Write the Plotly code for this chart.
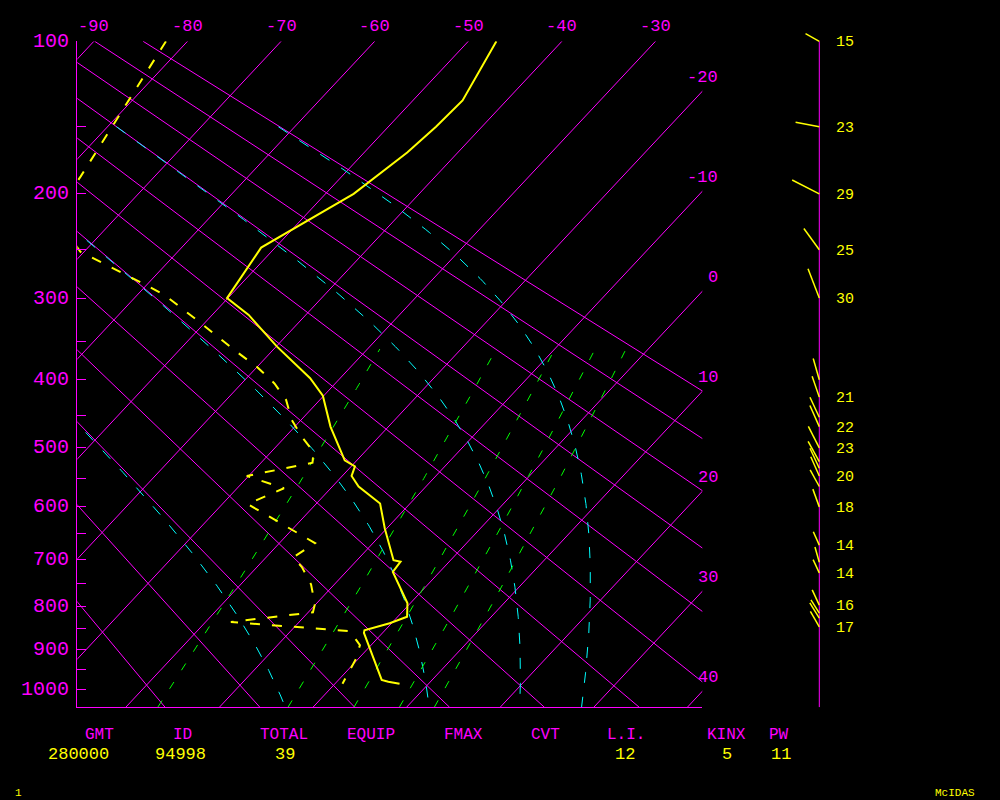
import numpy as np
import plotly.graph_objects as go

# ---------------- data ----------------
PRESSURE_TICKS = [100, 150, 200, 250, 300, 350, 400, 450, 500, 550, 600, 650,
                  700, 750, 800, 850, 900, 950, 1000]
PRESSURE_LABELS = [100, 200, 300, 400, 500, 600, 700, 800, 900, 1000]
ISOTHERMS_C = [-90, -80, -70, -60, -50, -40, -30, -20, -10, 0, 10, 20, 30, 40]
TOP_T_LABELS = [-90, -80, -70, -60, -50, -40, -30]
RIGHT_T_LABELS = [-20, -10, 0, 10, 20, 30, 40]
DRY_ADIABATS_K = [254, 264, 274, 284, 294, 304, 314, 324, 334, 344, 354, 364]
THETA_E_K = [274, 304, 334, 364]
MIXING_RATIOS_GKG = [1, 3, 5, 7, 9]

TEMP_P = [100, 113, 133, 150, 168, 200, 248, 300, 319, 357, 398, 422, 467, 520,
          530, 546, 564, 594, 640, 702, 705, 726, 793, 823, 838, 854, 860, 975,
          980, 985]
TEMP_C = [-47.0, -46.0, -44.7, -44.9, -45.4, -47.0, -51.5, -50.1, -46.1, -39.9,
          -33.2, -30.1, -26.2, -21.3, -19.6, -19.0, -17.2, -13.2, -10.2, -6.1,
          -5.2, -5.0, -0.3, 1.0, -0.2, -2.2, -2.0, 4.6, 5.5, 6.9]

DEW_P = [100, 186, 218, 252, 284, 297, 325, 364, 383, 405, 428, 457, 483, 506,
         524, 546, 567, 595, 668, 696, 716, 752, 795, 813, 835, 856, 889, 925, 985]
DEW_C = [-82.3, -77.9, -76.8, -70.4, -60.6, -57.0, -51.1, -43.6, -40.0, -36.5,
         -33.6, -31.0, -28.2, -25.5, -24.5, -30.2, -25.0, -27.3, -16.2, -17.1,
         -15.2, -12.5, -10.1, -9.5, -17.3, -3.7, -1.2, -0.2, 0.8]

WIND_P = [100, 150, 200, 250, 300, 400, 424, 453, 467, 500, 522, 533, 546, 564,
          600, 672, 706, 728, 797, 815, 826, 846]
WIND_DIR = [299, 281, 297, 324, 339, 344, 341, 335, 336, 333, 331, 335, 336, 331,
            340, 336, 344, 335, 335, 328, 328, 330]
WIND_SPD = [15, 23, 29, 25, 30, 21, 21, 21, 22, 23, 22, 21, 20, 18,
            18, 14, 15, 14, 16, 15, 17, 17]
WIND_LABELLED = [1, 1, 1, 1, 1, 0, 1, 0, 1, 1, 0, 0, 1, 0,
                 1, 1, 0, 1, 1, 0, 0, 1]

STAT_NAMES = ["GMT", "ID", "TOTAL", "EQUIP", "FMAX", "CVT", "L.I.", "KINX", "PW"]
STAT_VALUES = ["280000", "94998", "39", "", "", "", "12", "5", "11"]

# ---------------- geometry / style ----------------
W, H = 1000, 800
PL, PR, PT, PB = 77.3, 702.3, 41.3, 707.3
KAPPA = 0.286
P_TOP, P_BOT = 100.0, 1047.0
X_RIGHT = -25.0
DEG_PER_PX = 1 / 9.36
X_LEFT = X_RIGHT - (PR - PL) * DEG_PER_PX

STAT_NAME_X = [99, 182, 284, 370.5, 463, 545, 626, 726, 779]
STAT_VALUE_X = [78, 180.5, 285, 370.5, 463, 545, 625, 727, 781]

MAG = "#ff00ff"
YEL = "#ffff00"
CYA = "#00ffff"
GRN = "#00ff00"
FONT = "Liberation Mono"


def pk(p):
    return np.asarray(p, dtype=float) ** KAPPA


PK_TOP, PK_BOT = pk(P_TOP), pk(P_BOT)
PX_PER_PK = (PB - PT) / (PK_BOT - PK_TOP)
SKEW = 0.1 * PX_PER_PK  # 10 deg C of skew per 100 px


def skx(T, p):
    return np.asarray(T, dtype=float) - SKEW * (pk(p) - PK_TOP)


def fx(px):
    return px / W


def fy(py):
    return 1 - py / H


def sat_vp(tc):
    return 6.112 * np.exp(17.67 * tc / (tc + 243.5))


fig = go.Figure()
PGRID = np.linspace(P_TOP, P_BOT, 200)

# isotherms
for t in ISOTHERMS_C:
    fig.add_trace(go.Scatter(x=skx(np.full_like(PGRID, t), PGRID), y=pk(PGRID),
                             mode="lines", line=dict(color=MAG, width=1),
                             hoverinfo="skip"))
# dry adiabats
for th in DRY_ADIABATS_K:
    T = th * (PGRID / 1000.0) ** KAPPA - 273.15
    fig.add_trace(go.Scatter(x=skx(T, PGRID), y=pk(PGRID), mode="lines",
                             line=dict(color=MAG, width=1), hoverinfo="skip"))


# saturated (equivalent potential temperature) adiabats
def theta_e(tk, p):
    tc = tk - 273.15
    es = sat_vp(tc)
    ok = es < 0.5 * p
    r = 0.622 * es / np.where(ok, p - es, 1.0)
    th = tk * (1000.0 / p) ** KAPPA * np.exp(2.5e6 * r / (1005.0 * tk))
    return np.where(ok, th, 1e6)


PMOIST = np.linspace(150.0, P_BOT, 300)
for the in THETA_E_K:
    lo = np.full_like(PMOIST, 150.0)
    hi = np.full_like(PMOIST, 330.0)
    for _ in range(60):
        mid = 0.5 * (lo + hi)
        big = theta_e(mid, PMOIST) > the
        hi = np.where(big, mid, hi)
        lo = np.where(big, lo, mid)
    T = 0.5 * (lo + hi) - 273.15
    fig.add_trace(go.Scatter(x=skx(T, PMOIST), y=pk(PMOIST), mode="lines",
                             line=dict(color=CYA, width=1, dash="11px,14px"),
                             hoverinfo="skip"))

# mixing ratio lines
PMIX = np.linspace(P_BOT, 360.0, 120)
for r in MIXING_RATIOS_GKG:
    es = r * PMIX / (622.0 + r)
    a = np.log(es / 6.112)
    T = 243.5 * a / (17.67 - a)
    fig.add_trace(go.Scatter(x=skx(T, PMIX), y=pk(PMIX), mode="lines",
                             line=dict(color=GRN, width=1, dash="8px,14px"),
                             hoverinfo="skip"))

# sounding
fig.add_trace(go.Scatter(x=skx(DEW_C, DEW_P), y=pk(DEW_P), mode="lines",
                         line=dict(color=YEL, width=2, dash="10px,12px"),
                         hoverinfo="skip"))
fig.add_trace(go.Scatter(x=skx(TEMP_C, TEMP_P), y=pk(TEMP_P), mode="lines",
                         line=dict(color=YEL, width=2), hoverinfo="skip"))

# wind column
fig.add_trace(go.Scatter(x=[0, 0], y=pk([P_TOP, P_BOT]), xaxis="x2", yaxis="y2",
                         mode="lines", line=dict(color=MAG, width=1),
                         hoverinfo="skip"))
PX_PER_KT = 1.05
for p, d, s in zip(WIND_P, WIND_DIR, WIND_SPD):
    L = s * PX_PER_KT
    dx = L * np.sin(np.radians(d))
    up = L * np.cos(np.radians(d))
    fig.add_trace(go.Scatter(x=[0, dx], y=[pk(p), pk(p) - up / PX_PER_PK],
                             xaxis="x2", yaxis="y2", mode="lines",
                             line=dict(color=YEL, width=1.5), hoverinfo="skip"))

ann = []
for p in PRESSURE_LABELS:
    ann.append(dict(xref="paper", yref="y", x=fx(70.5), y=pk(p), text=str(p),
                    xanchor="right", yanchor="middle", showarrow=False,
                    font=dict(family=FONT, size=20, color=MAG)))
for t in TOP_T_LABELS:
    ann.append(dict(xref="x", yref="paper", x=t, y=fy(27), text=str(t),
                    xanchor="center", yanchor="middle", showarrow=False,
                    font=dict(family=FONT, size=17, color=MAG)))
for t in RIGHT_T_LABELS:
    pk_hit = PK_TOP + (t - X_RIGHT) / SKEW
    ann.append(dict(xref="paper", yref="y", x=fx(720), y=pk_hit - 14 / PX_PER_PK,
                    text=str(t), xanchor="right", yanchor="middle", showarrow=False,
                    font=dict(family=FONT, size=17, color=MAG)))
for p, s, lab in zip(WIND_P, WIND_SPD, WIND_LABELLED):
    if lab:
        ann.append(dict(xref="x2", yref="y2", x=15, y=pk(p), text=str(s),
                        xanchor="left", yanchor="middle", yshift=-1.5,
                        showarrow=False, font=dict(family=FONT, size=15, color=YEL)))
for name, xn in zip(STAT_NAMES, STAT_NAME_X):
    ann.append(dict(xref="paper", yref="paper", x=fx(xn), y=fy(734.7), text=name,
                    xanchor="center", yanchor="middle", showarrow=False,
                    font=dict(family=FONT, size=16, color=MAG)))
for val, xv in zip(STAT_VALUES, STAT_VALUE_X):
    if val:
        ann.append(dict(xref="paper", yref="paper", x=fx(xv), y=fy(754.7), text=val,
                        xanchor="center", yanchor="middle", showarrow=False,
                        font=dict(family=FONT, size=17, color=YEL)))
ann.append(dict(xref="paper", yref="paper", x=fx(18), y=fy(793), text="1",
                xanchor="center", yanchor="middle", showarrow=False,
                font=dict(family=FONT, size=11, color=YEL)))
ann.append(dict(xref="paper", yref="paper", x=fx(955), y=fy(793), text="McIDAS",
                xanchor="center", yanchor="middle", showarrow=False,
                font=dict(family=FONT, size=11, color=YEL)))

fig.update_layout(
    width=W, height=H, margin=dict(l=0, r=0, t=0, b=0, autoexpand=False),
    paper_bgcolor="black", plot_bgcolor="black", showlegend=False,
    annotations=ann,
    xaxis=dict(domain=[fx(PL), fx(PR)], range=[X_LEFT, X_RIGHT], showgrid=False,
               zeroline=False, showticklabels=False, ticks="", showline=True,
               linecolor=MAG, linewidth=1, anchor="y", fixedrange=True),
    yaxis=dict(domain=[fy(PB), fy(PT)], range=[PK_BOT, PK_TOP - 1e-6],
               showgrid=False, zeroline=False, showline=True, linecolor=MAG,
               linewidth=1, ticks="inside", ticklen=9, tickcolor=MAG, tickwidth=1,
               tickvals=list(pk(PRESSURE_TICKS)), showticklabels=False,
               anchor="x", fixedrange=True),
    xaxis2=dict(domain=[fx(719.3), fx(919.3)], range=[-100, 100], showgrid=False,
                zeroline=False, showticklabels=False, showline=False, anchor="y2",
                fixedrange=True),
    yaxis2=dict(domain=[fy(PB), 1.0], range=[PK_BOT, PK_TOP - PT / PX_PER_PK],
                showgrid=False, zeroline=False, showticklabels=False,
                showline=False, anchor="x2", fixedrange=True),
)

fig.write_html(
    "out.html",
    config={"displayModeBar": False},
    post_script="document.body.style.margin='0px';"
                "document.body.style.padding='0px';"
                "document.body.style.background='black';"
                "document.body.style.overflow='hidden';",
)
